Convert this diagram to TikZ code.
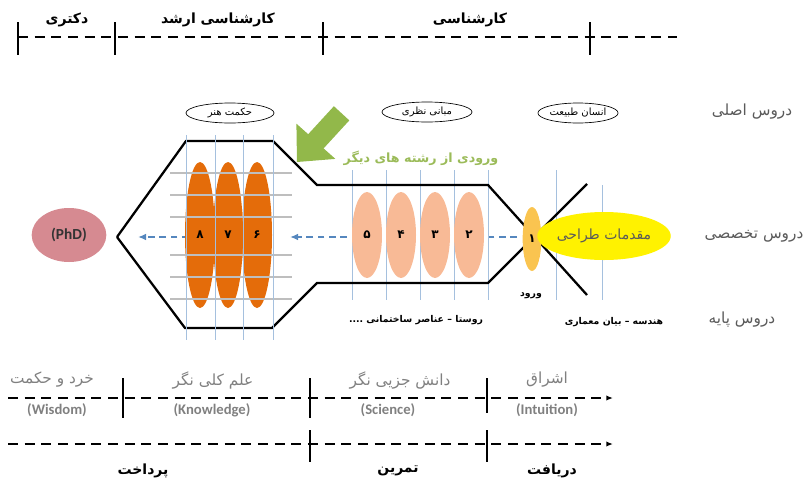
\documentclass[tikz,border=0pt]{standalone}
\usepackage{fontspec}
\usetikzlibrary{shapes.geometric,arrows.meta}
\TeXXeTstate=1
\newfontfamily\fa[Script=Arabic]{DejaVu Sans}
\newfontfamily\lat{Carlito}
\newcommand\fat[1]{\beginR #1\endR}
\definecolor{gridblue}{RGB}{165,192,222}
\definecolor{gridgray}{RGB}{190,190,190}
\definecolor{dorange}{RGB}{228,108,10}
\definecolor{peach}{RGB}{248,186,150}
\definecolor{amber}{RGB}{250,196,80}
\definecolor{yell}{RGB}{255,242,0}
\definecolor{rose}{RGB}{214,138,145}
\definecolor{dashblue}{RGB}{85,135,190}
\definecolor{txtgray}{RGB}{128,128,128}
\definecolor{dgray}{RGB}{90,90,90}
\definecolor{arrgreen}{RGB}{146,184,74}
\definecolor{txtgreen}{RGB}{155,187,89}
\begin{document}
\begin{tikzpicture}[x=0.75pt,y=-0.75pt,
  tkline/.style={line width=1.4pt},
  dashline/.style={line width=1.5pt, dash pattern=on 7.5pt off 5pt},
  gridv/.style={draw=gridblue, line width=0.7pt},
  gridh/.style={draw=gridgray, line width=2.2pt},
  outline/.style={line width=1.7pt, line join=miter},
  blueflow/.style={draw=dashblue, line width=1.3pt, dash pattern=on 5pt off 3.5pt, -{Latex[length=6pt,width=5pt]}},
  ovalO/.style={ellipse, fill=dorange, inner sep=0pt, minimum width=22.5pt, minimum height=109.5pt, font=\fontsize{9}{10}\selectfont\fa\bfseries},
  ovalP/.style={ellipse, fill=peach, inner sep=0pt, minimum width=22.5pt, minimum height=64.5pt, font=\fontsize{9}{10}\selectfont\fa\bfseries},
  tag/.style={ellipse, draw, line width=0.5pt, fill=white, inner sep=0pt, minimum height=15pt, font=\fontsize{7.5}{8}\selectfont\fa},
  toplab/.style={font=\fontsize{10.5}{12}\selectfont\fa\bfseries},
  sidelab/.style={text=dgray, font=\fontsize{11.5}{13}\selectfont\fa},
  graylab/.style={text=txtgray, font=\fontsize{11.5}{13}\selectfont\fa},
  latlab/.style={text=txtgray, font=\fontsize{11}{12}\selectfont\lat\bfseries},
  botlab/.style={font=\fontsize{10.5}{12}\selectfont\fa\bfseries},
  smalllab/.style={font=\fontsize{7}{9}\selectfont\fa\bfseries},
  tipline/.style={line width=1.4pt, dash pattern=on 7.5pt off 5pt, -{Latex[length=5pt,width=4pt]}}
]
\useasboundingbox (0,0) rectangle (807,479);

% ---------- top timeline ----------
\coordinate (t0) at (18,37); \coordinate (t1) at (677,37);
\draw[dashline] (t0) -- (t1);
\foreach \xx in {18,115,323,590} \draw[tkline] (\xx,22) -- (\xx,55);
\node[toplab] (lphd) at (67,20) {\fat{دکتری}};
\node[toplab] (lms) at (218,20) {\fat{کارشناسی ارشد}};
\node[toplab] (lbs) at (470,20) {\fat{کارشناسی}};

% ---------- side labels ----------
\node[sidelab] (s1) at (752,112) {\fat{دروس اصلی}};
\node[sidelab] (s2) at (754,236) {\fat{دروس تخصصی}};
\node[sidelab] (s3) at (742,320) {\fat{دروس پایه}};

% ---------- tag ellipses ----------
\node[tag, minimum width=66pt] (tg1) at (230,113) {\fat{حکمت هنر}};
\node[tag, minimum width=67.5pt] (tg2) at (427,112) {\fat{مبانی نظری}};
\node[tag, minimum width=55pt] (tg3) at (578,113) {\fat{انسان طبیعت}};

% ---------- green arrow ----------
\fill[arrgreen] (297,162) -- (335.4,158.9) -- (323.6,148.4) -- (349.3,120.4)
  -- (333.9,106.2) -- (308.2,134.2) -- (296.4,123.7) -- cycle;
\node[text=txtgreen, font=\fontsize{9.5}{11}\selectfont\fa\bfseries] (green) at (421,158) {\fat{ورودی از رشته های دیگر}};

% ---------- blue flow arrows ----------
\coordinate (f0) at (517,237); \coordinate (f1) at (290,237);
\coordinate (f2) at (268,237); \coordinate (f3) at (138,237);
\draw[blueflow] (f0) -- (f1);
\draw[blueflow] (f2) -- (f3);

% ---------- vertical grid (middle, right) ----------
\foreach \xx in {352,386,420,454,488} \draw[gridv] (\xx,170) -- (\xx,300);
\draw[gridv] (556,170) -- (556,300);
\draw[gridv] (602,185) -- (602,300);

% ---------- funnel outline ----------
\draw[outline] (117,237) -- (186,141) -- (273,141) -- (317,185) -- (488,185) -- (587,295);
\draw[outline] (117,237) -- (185,328) -- (272,328) -- (317,283) -- (488,283) -- (587,184);

% ---------- ellipses ----------
\node[ovalO] (n8) at (200,235) {۸};
\node[ovalO] (n7) at (228,235) {۷};
\node[ovalO] (n6) at (257,235) {۶};
\node[ovalP] (n5) at (367,235) {۵};
\node[ovalP] (n4) at (401,235) {۴};
\node[ovalP] (n3) at (435,235) {۳};
\node[ovalP] (n2) at (469,235) {۲};
\node[ellipse, fill=amber, inner sep=0pt, minimum width=14pt, minimum height=48pt, font=\fontsize{9}{10}\selectfont\fa\bfseries] (n1) at (532,239) {۱};
\node[ellipse, fill=yell, inner sep=0pt, minimum width=60pt, minimum height=36pt, text=dgray, font=\fontsize{10.5}{12}\selectfont\fa] (intro) at (604,236) {\fat{مقدمات طراحی}};
\node[ellipse, fill=rose, inner sep=0pt, minimum width=56pt, minimum height=40.5pt, text=black!80, font=\fontsize{11.5}{13}\selectfont\lat\bfseries] (phd) at (69,235) {(PhD)};

% ---------- grid over left section ----------
\foreach \yy in {173,195,217,255,277,299} \draw[gridh] (170,\yy) -- (292,\yy);
\foreach \xx in {186,215,243,273} \draw[gridv] (\xx,135) -- (\xx,340);

% ---------- small labels ----------
\node[smalllab] (entry) at (531,296) {\fat{ورود}};
\node[smalllab] (vill) at (416,320) {\fat{روستا – عناصر ساختمانی ....}};
\node[smalllab] (geom) at (614,322) {\fat{هندسه – بیان معماری}};

% ---------- bottom timeline 1 ----------
\coordinate (b0) at (8,398); \coordinate (b1) at (613,398);
\draw[tipline] (b0) -- (b1);
\draw[tkline] (123,378) -- (123,418);
\draw[tkline] (310,378) -- (310,418);
\draw[tkline] (487,378) -- (487,413);
\node[graylab] (w1) at (52,380) {\fat{خرد و حکمت}};
\node[graylab] (w2) at (213,380) {\fat{علم کلی نگر}};
\node[graylab] (w3) at (400,380) {\fat{دانش جزیی نگر}};
\node[graylab] (w4) at (547,380) {\fat{اشراق}};
\node[latlab] (e1) at (57,410) {(Wisdom)};
\node[latlab] (e2) at (212,410) {(Knowledge)};
\node[latlab] (e3) at (388,410) {(Science)};
\node[latlab] (e4) at (547,410) {(Intuition)};

% ---------- bottom timeline 2 ----------
\coordinate (c0) at (8,444); \coordinate (c1) at (613,444);
\draw[tipline] (c0) -- (c1);
\draw[tkline] (310,430) -- (310,462);
\draw[tkline] (487,430) -- (487,462);
\node[botlab] (p1) at (143,471) {\fat{پرداخت}};
\node[botlab] (p2) at (398,471) {\fat{تمرین}};
\node[botlab] (p3) at (552,471) {\fat{دریافت}};
\end{tikzpicture}
\end{document}
